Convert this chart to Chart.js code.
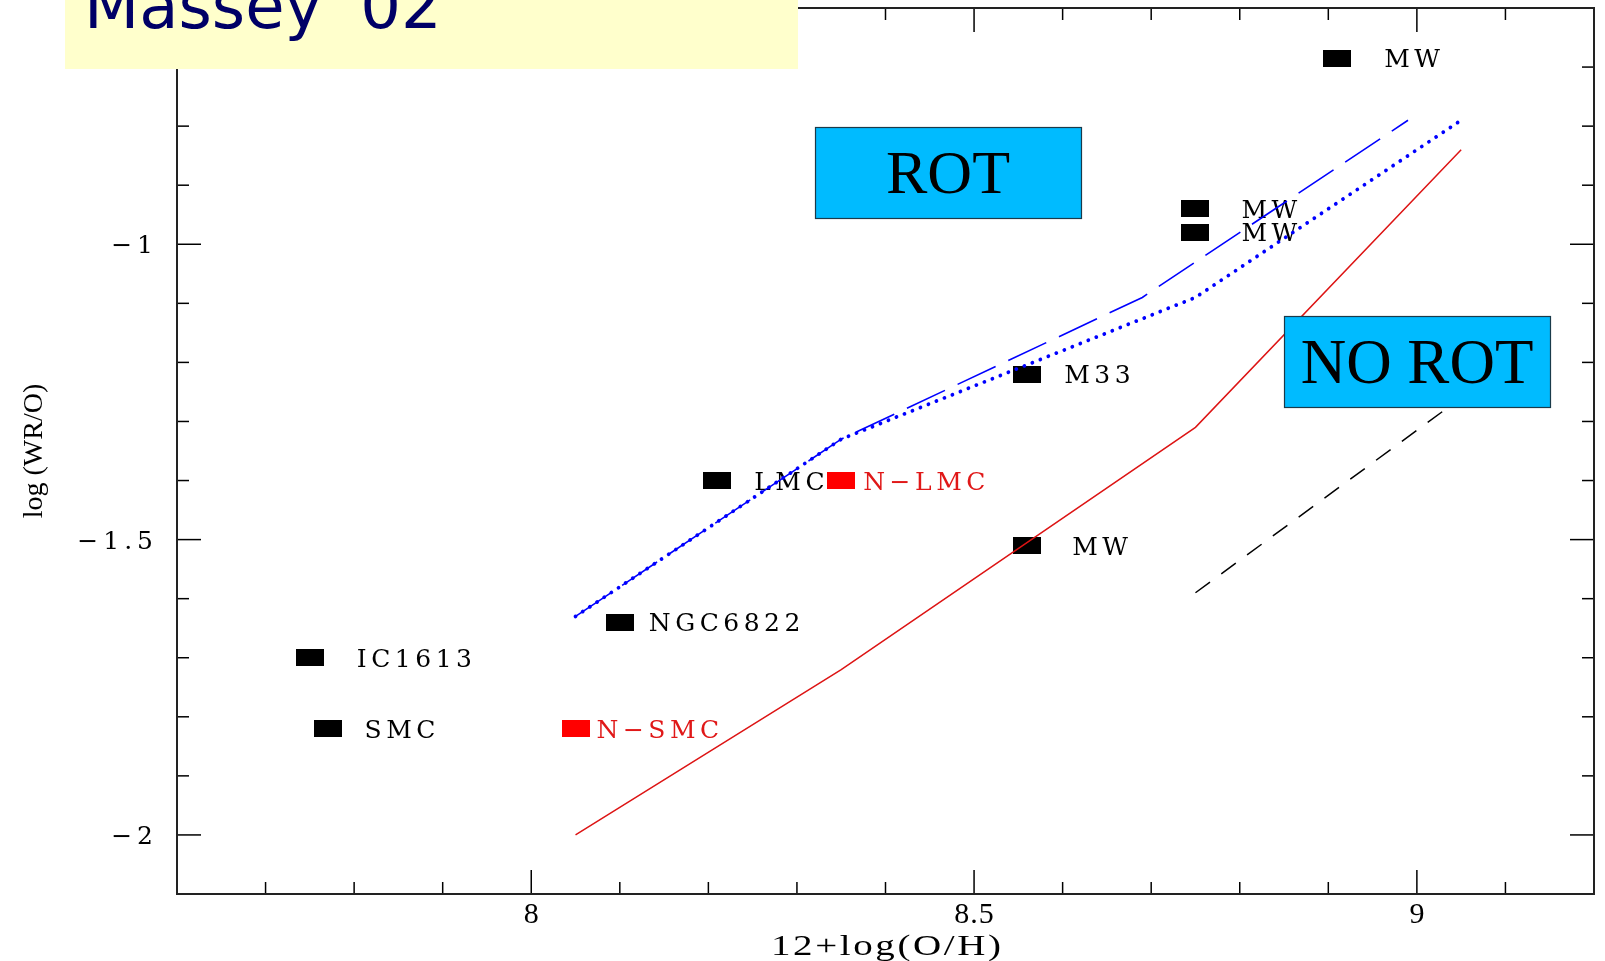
<!DOCTYPE html>
<html>
<head>
<meta charset="utf-8">
<title>log(WR/O) vs 12+log(O/H)</title>
<script src="https://cdn.jsdelivr.net/npm/chart.js@4.4.0/dist/chart.umd.min.js"></script>
<style>
  html, body { margin: 0; padding: 0; background: #fff; }
  canvas { display: block; }
</style>
</head>
<body>
<canvas id="wrChart" width="1605" height="961"></canvas>
<script>
// observed galaxies (black squares)
const galaxyNames = ['MW', 'MW', 'MW', 'M33', 'MW', 'LMC', 'NGC6822', 'IC1613', 'SMC'];
const galaxyOH = [8.91, 8.75, 8.75, 8.56, 8.56, 8.21, 8.10, 7.75, 7.77];
const galaxyWRO = [-0.685, -0.94, -0.98, -1.22, -1.51, -1.40, -1.64, -1.70, -1.82];

// new determinations (red squares)
const newNames = ['N−LMC', 'N−SMC'];
const newOH = [8.35, 8.05];
const newWRO = [-1.40, -1.82];

// model curves
const rotDashOH = [8.05, 8.35, 8.69, 8.99];
const rotDashWRO = [-1.63, -1.33, -1.09, -0.79];
const rotDotOH = [8.05, 8.35, 8.75, 9.05];
const rotDotWRO = [-1.63, -1.33, -1.09, -0.79];
const noRotOH = [8.05, 8.35, 8.75, 9.05];
const noRotWRO = [-2.00, -1.72, -1.31, -0.84];
const noRotDashOH = [8.75, 9.05];
const noRotDashWRO = [-1.59, -1.26];

// axis tick labels
const xTickLabels = [8, 8.5, 9];
const yTickLabels = [-1, -1.5, -2];

// gap between square centre and its label (px)
const galaxyLabelGap = [47, 46, 46, 37, 45, 37, 29, 47, 37];
const newLabelGap = [22, 21];

const toPoints = (xs, ys) => xs.map((v, i) => ({ x: v, y: ys[i] }));

const makeSquare = (color) => {
    const c = document.createElement('canvas');
    c.width = 28;
    c.height = 17;
    const g = c.getContext('2d');
    g.fillStyle = color;
    g.fillRect(0, 0, 28, 17);
    return c;
};

// draws text with horizontal stretch + letter spacing (old plot fonts are wide)
const drawText = (ctx, text, x, y, o) => {
    ctx.save();
    ctx.font = o.font;
    ctx.fillStyle = o.color || '#000';
    ctx.textAlign = 'left';
    ctx.textBaseline = o.baseline || 'alphabetic';
    const sp = o.spacing || 0;
    ctx.letterSpacing = sp + 'px';
    const sx = o.scaleX || 1;
    const w = (ctx.measureText(text).width - sp) * sx;
    let x0 = x;
    if (o.align === 'center') x0 = x - w / 2;
    if (o.align === 'right') x0 = x - w;
    ctx.translate(x0, y);
    ctx.scale(sx, 1);
    ctx.fillText(text, 0, 0);
    ctx.restore();
    return w;
};

const isMajor = v => Math.abs(v * 2 - Math.round(v * 2)) < 1e-6;

const labelFont = { font: '25px "DejaVu Serif"', spacing: 4.5 };

const labelPlugin = {
    id: 'pointLabels',
    beforeDatasetsDraw(chart) {
        const { ctx, scales: { x, y } } = chart;
        galaxyNames.forEach((name, i) => {
            const px = x.getPixelForValue(galaxyOH[i]) + galaxyLabelGap[i];
            const py = y.getPixelForValue(galaxyWRO[i]) + 9;
            drawText(ctx, name, px, py, { ...labelFont, color: '#000' });
        });
        newNames.forEach((name, i) => {
            const px = x.getPixelForValue(newOH[i]) + newLabelGap[i];
            const py = y.getPixelForValue(newWRO[i]) + 9;
            drawText(ctx, name, px, py, { ...labelFont, color: '#e01818' });
        });
    }
};

const framePlugin = {
    id: 'frame',
    afterDraw(chart) {
        const { ctx, chartArea: a, scales: { x, y } } = chart;
        const line = (x1, y1, x2, y2) => {
            ctx.beginPath();
            ctx.moveTo(x1, y1);
            ctx.lineTo(x2, y2);
            ctx.stroke();
        };
        ctx.save();
        ctx.strokeStyle = '#000';
        ctx.lineWidth = 1.5;

        // inward ticks on all four sides
        x.ticks.forEach(t => {
            const px = x.getPixelForValue(t.value);
            if (px <= a.left + 1 || px >= a.right - 1) return;
            const len = isMajor(t.value) ? 24 : 12;
            line(px, a.bottom, px, a.bottom - len);
            line(px, a.top, px, a.top + len);
        });
        y.ticks.forEach(t => {
            const py = y.getPixelForValue(t.value);
            if (py <= a.top + 1 || py >= a.bottom - 1) return;
            const len = isMajor(t.value) ? 24 : 12;
            line(a.left, py, a.left + len, py);
            line(a.right, py, a.right - len, py);
        });

        ctx.lineWidth = 2;
        ctx.strokeStyle = '#222';
        ctx.strokeRect(a.left, a.top, a.right - a.left, a.bottom - a.top);
        ctx.restore();

        // tick labels
        xTickLabels.forEach(v => {
            drawText(ctx, String(v), x.getPixelForValue(v), a.bottom + 29,
                { font: '30px "Liberation Serif"', spacing: 1, align: 'center' });
        });
        yTickLabels.forEach(v => {
            const txt = '\u2212' + String(Math.abs(v));
            drawText(ctx, txt, a.left - 24, y.getPixelForValue(v) + 9,
                { font: '25px "DejaVu Serif"', spacing: 5, align: 'right' });
        });

        // axis titles
        drawText(ctx, '12+log(O/H)', 886, 955,
            { font: '30px "Liberation Serif"', spacing: 2, scaleX: 1.3, align: 'center' });
        ctx.save();
        ctx.translate(42, 451);
        ctx.rotate(-Math.PI / 2);
        ctx.font = '28px "Liberation Serif"';
        ctx.fillStyle = '#000';
        ctx.textAlign = 'center';
        ctx.fillText('log (WR/O)', 0, 0);
        ctx.restore();

        // ROT / NO ROT boxes
        const box = (bx, by, bw, bh, text, tx, ty, size) => {
            ctx.save();
            ctx.fillStyle = '#00bbff';
            ctx.fillRect(bx, by, bw, bh);
            ctx.strokeStyle = '#1a3a4a';
            ctx.lineWidth = 1.2;
            ctx.strokeRect(bx + 0.5, by + 0.5, bw, bh);
            ctx.fillStyle = '#000';
            ctx.font = size + 'px "Liberation Serif"';
            ctx.textAlign = 'center';
            ctx.textBaseline = 'alphabetic';
            ctx.fillText(text, tx, ty);
            ctx.restore();
        };
        box(815, 127, 266, 91, 'ROT', 948, 193, 62);
        box(1284, 316, 266, 91, 'NO ROT', 1417, 383, 63);

        // title strip
        ctx.save();
        ctx.fillStyle = '#ffffcc';
        ctx.fillRect(65, 0, 733, 69);
        ctx.fillStyle = '#000066';
        ctx.font = '64px "DejaVu Sans"';
        ctx.textBaseline = 'alphabetic';
        ctx.fillText("Massey '02", 84, 28);
        ctx.restore();
    }
};

const ctx = document.getElementById('wrChart');

new Chart(ctx, {
    type: 'scatter',
    data: {
        datasets: [
            {
                label: 'rotation (dashed)',
                type: 'line',
                data: toPoints(rotDashOH, rotDashWRO),
                borderColor: '#0000ff',
                borderWidth: 1.6,
                borderDash: [42, 14],
                pointRadius: 0,
                tension: 0,
                fill: false
            },
            {
                label: 'rotation (dotted)',
                type: 'line',
                data: toPoints(rotDotOH, rotDotWRO),
                borderColor: '#0000ff',
                borderWidth: 3.8,
                borderDash: [0.01, 8.6],
                borderCapStyle: 'round',
                pointRadius: 0,
                tension: 0,
                fill: false
            },
            {
                label: 'no rotation',
                type: 'line',
                data: toPoints(noRotOH, noRotWRO),
                borderColor: '#dd1414',
                borderWidth: 1.5,
                pointRadius: 0,
                tension: 0,
                fill: false
            },
            {
                label: 'no rotation (dashed)',
                type: 'line',
                data: toPoints(noRotDashOH, noRotDashWRO),
                borderColor: '#000',
                borderWidth: 1.5,
                borderDash: [18, 14],
                pointRadius: 0,
                tension: 0,
                fill: false
            },
            {
                label: 'galaxies',
                data: toPoints(galaxyOH, galaxyWRO),
                pointStyle: makeSquare('#000'),
                pointRadius: 10,
                showLine: false
            },
            {
                label: 'new',
                data: toPoints(newOH, newWRO),
                pointStyle: makeSquare('#ff0000'),
                pointRadius: 10,
                showLine: false
            }
        ]
    },
    options: {
        responsive: false,
        animation: false,
        layout: {
            autoPadding: false,
            padding: { left: 177, right: 11, top: 8, bottom: 67 }
        },
        plugins: {
            legend: { display: false },
            tooltip: { enabled: false }
        },
        scales: {
            x: {
                type: 'linear',
                min: 7.6,
                max: 9.2,
                grid: { display: false, drawTicks: false },
                border: { display: false },
                ticks: { display: false, stepSize: 0.1, autoSkip: false }
            },
            y: {
                type: 'linear',
                min: -2.1,
                max: -0.6,
                grid: { display: false, drawTicks: false },
                border: { display: false },
                ticks: { display: false, stepSize: 0.1, autoSkip: false }
            }
        }
    },
    plugins: [labelPlugin, framePlugin]
});
</script>
</body>
</html>
